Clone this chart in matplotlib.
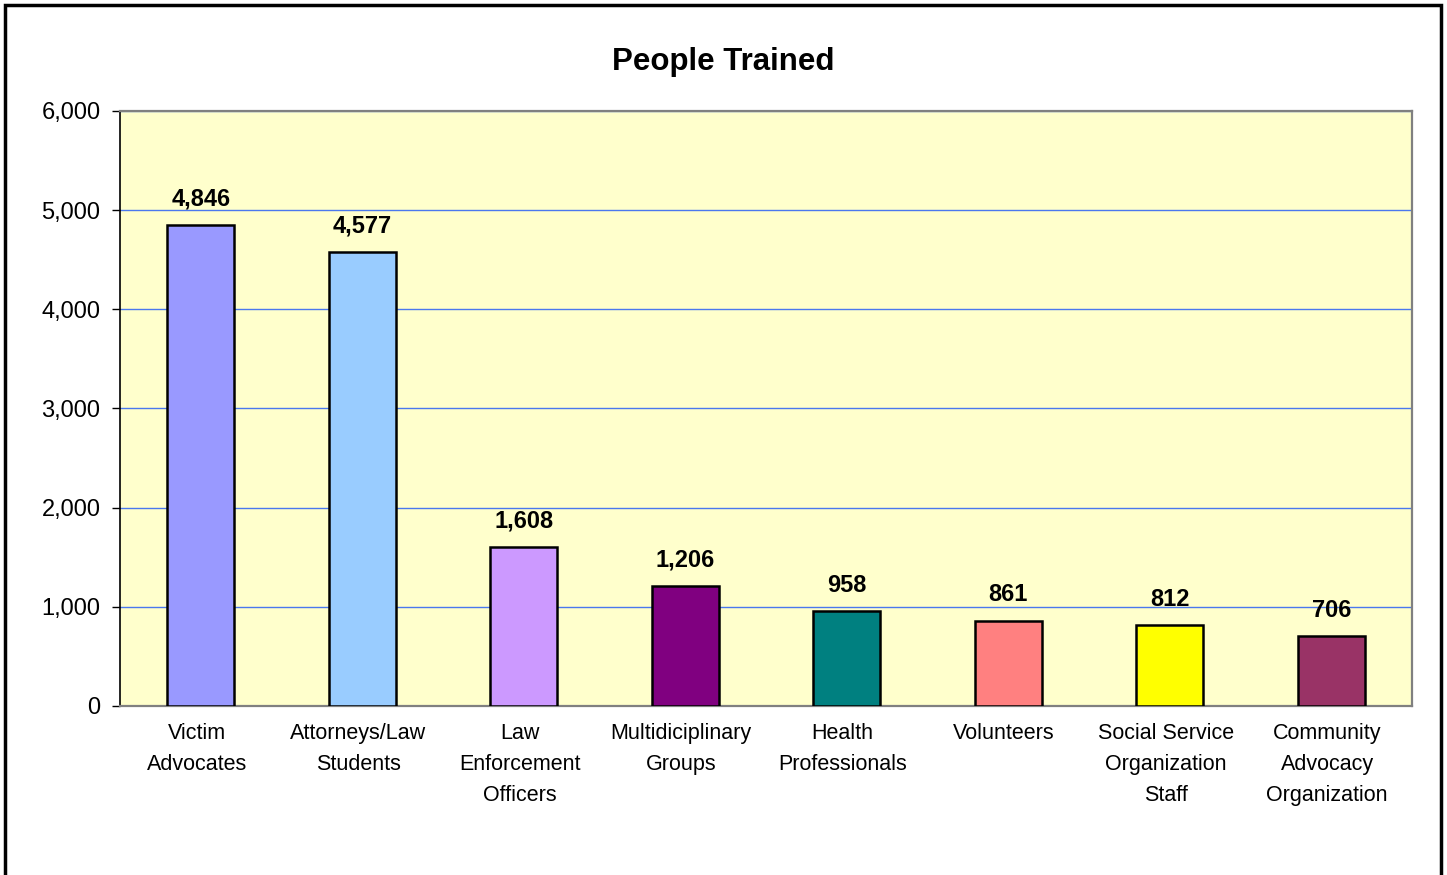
import matplotlib
matplotlib.use("Agg")
import matplotlib.pyplot as plt
from matplotlib.patches import Rectangle
from matplotlib.ticker import FuncFormatter

categories = ["Victim\nAdvocates", "Attorneys/Law\nStudents", "Law\nEnforcement\nOfficers",
              "Multidiciplinary\nGroups", "Health\nProfessionals", "Volunteers",
              "Social Service\nOrganization\nStaff", "Community\nAdvocacy\nOrganization"]
values = [4846, 4577, 1608, 1206, 958, 861, 812, 706]
colors = ["#9999FF", "#99CCFF", "#CC99FF", "#800080", "#008080", "#FF8080", "#FFFF00", "#993366"]
yticks = [0, 1000, 2000, 3000, 4000, 5000, 6000]

plt.rcParams['font.family'] = ['Liberation Sans', 'DejaVu Sans']

fig = plt.figure(figsize=(14.47, 8.75), dpi=100)
ax = fig.add_axes([120/1447, 1-706/875, (1412-120)/1447, (706-111)/875])
ax.set_facecolor("#FFFFCC")

x = list(range(len(values)))
ax.bar(x, values, width=0.415, color=colors, edgecolor="black", linewidth=1.8, zorder=3)
ax.set_xlim(-0.5, len(values) - 0.5)
ax.set_ylim(0, 6000)
ax.set_yticks(yticks)
ax.yaxis.set_major_formatter(FuncFormatter(lambda v, p: f"{int(v):,}"))
ax.tick_params(axis='y', labelsize=17, length=6, width=1, direction='out', pad=8, colors='black')
ax.set_xticks(x)
ax.set_xticklabels([])
ax.tick_params(axis='x', length=0)
ax.grid(axis='y', color="#4A78EE", linewidth=1, zorder=1)
ax.set_axisbelow(True)

for s in ['top', 'right', 'bottom']:
    ax.spines[s].set_color("#808080")
    ax.spines[s].set_linewidth(1.6)
ax.spines['left'].set_color("black")
ax.spines['left'].set_linewidth(1.2)

for xi, v in zip(x, values):
    ax.annotate(f"{v:,}", (xi, v), xytext=(0, 14), textcoords='offset points',
                ha='center', va='baseline', fontsize=17, fontweight='bold')

for xi, lab in zip(x, categories):
    ax.annotate(lab, (xi, 0), xytext=(-3, -12), textcoords='offset points',
                ha='center', va='top', fontsize=15.5, linespacing=1.63)

fig.text(0.5, 1-62/875, "People Trained", ha='center', va='center', fontsize=22.5, fontweight='bold')

fig.patches.append(Rectangle((5/1447, -0.05), (1441-5)/1447, 1.05-5/875, transform=fig.transFigure,
                             fill=False, edgecolor='black', linewidth=2.5))

fig.savefig("out.png", dpi=100, facecolor='white')
